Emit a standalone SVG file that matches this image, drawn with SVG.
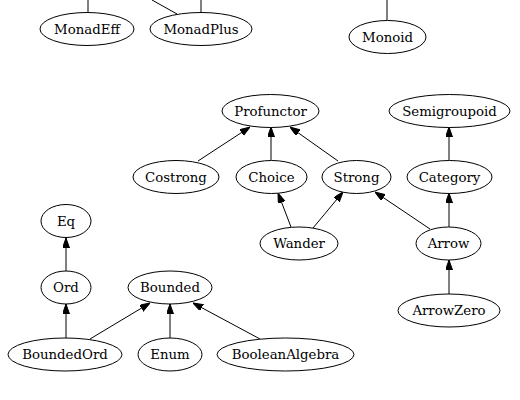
<svg xmlns="http://www.w3.org/2000/svg" width="520" height="400" viewBox="0 0 520 400">
<style>
  ellipse { fill: #ffffff; stroke: #000000; stroke-width: 1; }
  text { font-family: "DejaVu Serif", "Liberation Serif", serif; font-size: 13.3px; text-anchor: middle; fill: #000000; }
  .e { stroke: #000000; stroke-width: 1; fill: none; }
  .a { stroke: #000000; stroke-width: 1; fill: none; marker-end: url(#arr); }
</style>
<defs>
  <marker id="arr" markerWidth="10" markerHeight="8" refX="10" refY="3.5" orient="auto" markerUnits="userSpaceOnUse">
    <path d="M0,0 L10,3.5 L0,7 z" fill="#000000" stroke="#000000" stroke-width="1"/>
  </marker>
</defs>
<rect x="0" y="0" width="520" height="400" fill="#ffffff"/>
<g id="connectors">
  <line class="e" x1="88" y1="13" x2="88" y2="0"/>
  <line class="e" x1="201" y1="13" x2="201" y2="0"/>
  <line class="e" x1="177" y1="14" x2="152" y2="0"/>
  <line class="e" x1="387" y1="20" x2="387" y2="0"/>
  <line class="a" x1="198" y1="161" x2="250" y2="127"/>
  <line class="a" x1="271" y1="160" x2="271" y2="127"/>
  <line class="a" x1="338" y1="161" x2="290" y2="127"/>
  <line class="a" x1="449" y1="160" x2="449" y2="127"/>
  <line class="a" x1="291" y1="227" x2="278" y2="193"/>
  <line class="a" x1="313" y1="228" x2="343" y2="192"/>
  <line class="a" x1="430" y1="229" x2="375" y2="192"/>
  <line class="a" x1="449" y1="227" x2="449" y2="193"/>
  <line class="a" x1="449" y1="294" x2="449" y2="260"/>
  <line class="a" x1="66" y1="271" x2="66" y2="238"/>
  <line class="a" x1="66" y1="338" x2="66" y2="304"/>
  <line class="a" x1="90" y1="339" x2="150" y2="303"/>
  <line class="a" x1="170" y1="338" x2="170" y2="304"/>
  <line class="a" x1="260" y1="339" x2="193" y2="303"/>
</g>
<g id="MonadEff"><ellipse cx="87" cy="29" rx="47" ry="16.5"/><text x="87" y="33.5">MonadEff</text></g>
<g id="MonadPlus"><ellipse cx="201" cy="29" rx="51" ry="16.5"/><text x="201" y="33.5">MonadPlus</text></g>
<g id="Monoid"><ellipse cx="387.5" cy="37" rx="38.5" ry="16.5"/><text x="387.5" y="41.5">Monoid</text></g>
<g id="Profunctor"><ellipse cx="270.5" cy="111" rx="48.5" ry="16.5"/><text x="270.5" y="115.5">Profunctor</text></g>
<g id="Semigroupoid"><ellipse cx="449.5" cy="111" rx="60.5" ry="16.5"/><text x="449.5" y="115.5">Semigroupoid</text></g>
<g id="Costrong"><ellipse cx="176" cy="177" rx="43" ry="16.5"/><text x="176" y="181.5">Costrong</text></g>
<g id="Choice"><ellipse cx="271.5" cy="177" rx="35.5" ry="16.5"/><text x="271.5" y="181.5">Choice</text></g>
<g id="Strong"><ellipse cx="356.5" cy="177" rx="34.5" ry="16.5"/><text x="356.5" y="181.5">Strong</text></g>
<g id="Category"><ellipse cx="449.5" cy="177" rx="42.5" ry="16.5"/><text x="449.5" y="181.5">Category</text></g>
<g id="Wander"><ellipse cx="299" cy="243.5" rx="39" ry="16.5"/><text x="299" y="248">Wander</text></g>
<g id="Arrow"><ellipse cx="448.5" cy="243.5" rx="32.5" ry="16.5"/><text x="448.5" y="248">Arrow</text></g>
<g id="ArrowZero"><ellipse cx="449" cy="310.5" rx="51" ry="16.5"/><text x="449" y="315">ArrowZero</text></g>
<g id="Eq"><ellipse cx="66" cy="221" rx="25" ry="16.5"/><text x="66" y="225.5">Eq</text></g>
<g id="Ord"><ellipse cx="66" cy="287.5" rx="25" ry="16.5"/><text x="66" y="292">Ord</text></g>
<g id="Bounded"><ellipse cx="170" cy="287.5" rx="42" ry="16.5"/><text x="170" y="292">Bounded</text></g>
<g id="BoundedOrd"><ellipse cx="65" cy="354.5" rx="57" ry="16.5"/><text x="65" y="359">BoundedOrd</text></g>
<g id="Enum"><ellipse cx="170" cy="354.5" rx="32" ry="16.5"/><text x="170" y="359">Enum</text></g>
<g id="BooleanAlgebra"><ellipse cx="285.5" cy="354.5" rx="68.5" ry="16.5"/><text x="285.5" y="359">BooleanAlgebra</text></g>
</svg>
